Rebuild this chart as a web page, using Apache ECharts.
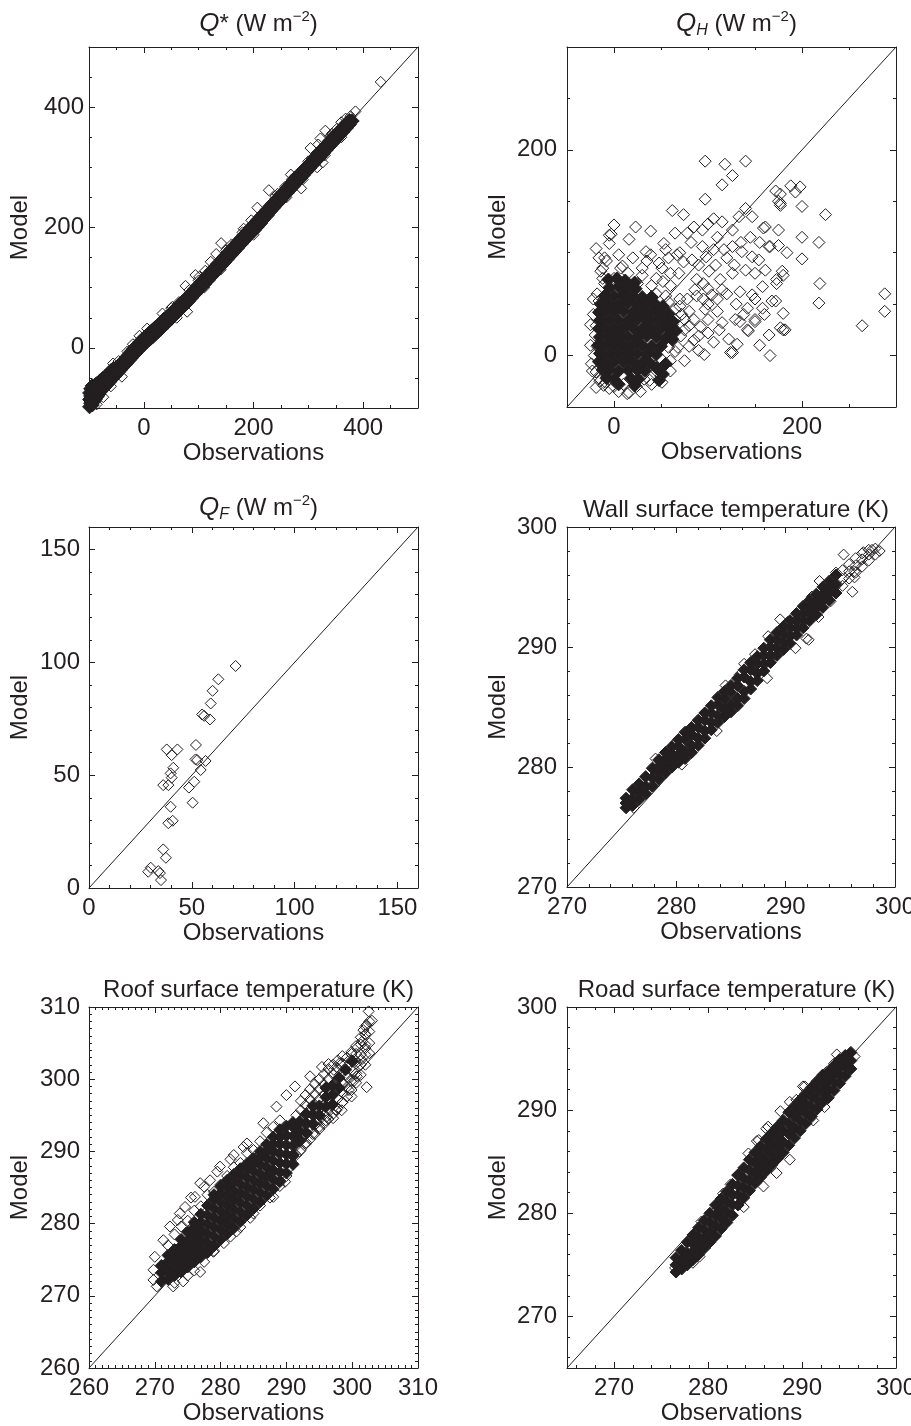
<!DOCTYPE html>
<html>
<head>
<meta charset="utf-8">
<script src="https://cdn.jsdelivr.net/npm/echarts@6.0.0/dist/echarts.min.js"></script>
<style>
  html, body { margin: 0; padding: 0; background: #fff; }
  #chart { width: 911px; height: 1426px; }
</style>
</head>
<body>
<div id="chart"></div>
<script>
// ---- data (observations, model) ----

// Q* (W m-2)
var qstarTicks = [0, 200, 400];
var qstarBand = [
  [-99,-98],[-99,-86],[-99,-75],[-97,-92],[-97,-80],[-97,-68],[-94,-95],[-94,-84],[-94,-72],[-94,-63],
  [-91,-89],[-91,-77],[-91,-65],[-88,-85],[-88,-73],[-88,-61],[-85,-81],[-85,-70],[-85,-59],
  [-82,-77],[-82,-66],[-82,-57],[-79,-73],[-79,-62],[-79,-54],[-75,-69],[-75,-58],[-75,-51],
  [-71,-65],[-71,-55],[-71,-48],[-67,-61],[-67,-51],[-67,-45],[-63,-57],[-63,-47],[-63,-41],
  [-59,-53],[-59,-44],[-59,-37],[-55,-49],[-55,-40],[-55,-34],[-51,-45],[-51,-35],
  [-47,-41],[-47,-31],[-43,-37],[-43,-27],[-39,-33],[-39,-23],[-35,-29],[-35,-19],
  [-31,-25],[-31,-15],[-27,-21],[-27,-11],[-23,-17],[-23,-6],[-19,-13],[-19,-2],
  [-15,-9],[-15,2],[-11,-5],[-11,6],[-7,-1],[-7,10],[-3,3],[-3,14],[1,6],[1,17],
  [5,10],[5,20],[9,13],[9,24],[13,16],[13,27],[17,19],[17,30],[21,23],[21,34],
  [26,27],[26,38],[31,31],[31,42],[36,36],[36,47],[41,40],[41,51],[46,45],[46,55],
  [51,49],[51,59],[56,54],[56,64],[61,59],[61,68],[66,63],[66,73],[71,68],[71,77],
  [76,72],[76,81],[81,77],[81,86],[87,83],[87,92],[93,89],[93,98],[99,95],[99,104],
  [105,101],[105,110],[111,106],[111,116],[117,112],[117,122],[123,118],[123,128],
  [129,124],[129,134],[135,130],[135,140],[141,136],[141,146],[147,142],[147,152],
  [153,148],[153,158],[159,154],[159,164],[165,160],[165,170],[171,166],[171,176],
  [177,172],[177,182],[183,178],[183,188],[189,184],[189,194],[195,190],[195,200],
  [201,195],[201,206],[207,201],[207,212],[213,207],[213,218],[219,214],[219,224],
  [225,220],[225,230],[231,227],[231,236],[237,233],[237,242],[243,239],[243,248],
  [249,245],[249,254],[255,251],[255,259],[261,257],[261,266],[267,263],[267,272],
  [273,269],[273,278],[279,275],[279,284],[285,281],[285,290],[291,287],[291,296],
  [297,293],[297,301],[303,299],[303,307],[309,305],[309,314],[315,311],[315,320],
  [321,317],[321,326],[327,323],[327,332],[333,329],[333,338],[339,335],[339,344],
  [345,341],[345,350],[351,347],[351,355],[357,353],[357,361],[363,359],[363,367],
  [369,365],[369,373],[375,371],[375,378],[380,377]
];
var qstarPoints = [
  [432,442],[386,393],[377,385],[368,381],[360,375],[352,364],[343,356],[331,361],[322,348],
  [318,338],[304,332],[326,308],[316,300],[310,305],[296,290],[287,265],[282,278],[276,285],
  [268,288],[258,268],[251,244],[244,256],[228,262],[232,240],[221,226],[207,233],[196,212],
  [190,188],[182,198],[170,164],[160,172],[141,174],[132,156],[122,143],[112,128],[101,118],
  [94,121],[83,96],[76,103],[79,60],[64,76],[52,68],[34,57],[28,40],[16,32],[6,32],[-8,20],
  [-20,6],[-30,-6],[-56,-26],[-46,-22],[-74,-82],[-60,-64],[-86,-94],[-40,-48],
  [50,66],[100,112],[150,162],[180,192],[240,252],[270,280],[300,310],[340,352],
  [60,50],[110,100],[140,130],[200,188],[260,250],[290,280],[330,320],[360,350]
];

// QH (W m-2)
var qhTicks = [0, 200];
var qhCore = [
  [-6,74],[3,75],[12,73],[22,71],
  [-5,66],[5,67],[15,66],[23,65],
  [-10,58],[0,58],[10,59],[20,58],[30,57],[40,57],
  [-14,50],[-5,50],[5,50],[15,51],[25,50],[35,50],[45,49],[52,48],
  [-16,42],[-10,42],[0,42],[10,43],[20,42],[30,42],[40,42],[50,41],[58,41],
  [-15,34],[-5,34],[5,34],[15,34],[25,35],[35,34],[45,34],[55,33],[63,33],
  [-16,26],[-10,26],[0,26],[10,26],[20,27],[30,26],[40,26],[50,26],[60,25],[66,24],
  [-15,18],[-5,18],[5,18],[15,18],[25,18],[35,19],[45,18],[55,17],[62,16],
  [-17,10],[-10,10],[0,10],[10,10],[20,10],[30,10],[40,9],[50,9],
  [-15,2],[-5,2],[5,2],[15,2],[25,2],[35,1],[45,1],
  [-16,-6],[-10,-6],[0,-6],[10,-6],[20,-6],[30,-7],[38,-7],
  [-12,-14],[-5,-14],[5,-15],[15,-14],[25,-14],[33,-15],
  [-8,-22],[0,-23],[18,-22],[26,-23],[5,-28],[22,-29],
  [45,-12],[52,-18],[48,-24],[55,-8]
];
var qhPoints = [
  [97,189],[118,186],[140,189],[126,175],[115,166],[97,152],[188,165],[198,164],[172,160],
  [177,157],[193,159],[177,148],[175,150],[200,145],[225,137],[140,143],[62,141],[74,137],
  [106,133],[115,130],[161,125],[175,122],[200,115],[218,110],[166,106],[184,100],[200,94],
  [0,127],[-3,118],[23,125],[39,121],[16,113],[-19,104],[-10,95],[-5,109],[9,87],[-14,82],
  [179,82],[173,70],[219,70],[218,51],[182,25],[177,27],[264,29],[288,60],[288,43],[166,0],
  [180,41],[172,53],[150,33],[134,33],[143,24],[131,11],[124,3],[96,1],[106,13],[51,-26],
  [14,-37],[-23,-15],[-19,-31],[-11,-29],
  [177,146],[-5,117],[34,101],[39,98],[53,109],[65,119],[78,119],[94,122],[126,122],[133,135],
  [147,135],[159,124],[175,107],[55,103],[67,98],[74,91],[83,93],[94,106],[106,103],[117,103],
  [126,106],[136,101],[147,96],[154,93],[165,106],[-12,85],[-16,95],[7,85],[30,85],[51,85],
  [69,80],[88,74],[101,82],[113,74],[126,80],[140,83],[150,80],[161,83],[180,78],[173,74],
  [134,62],[147,59],[158,67],[168,53],[180,25],[142,46],[158,46],[150,35],[129,35],[115,32],
  [142,25],[122,16],[126,3],[90,19],[110,43],[97,45],[88,58],[104,59],[115,64],[80,43],
  [80,29],[65,35],[71,19],[80,9],[65,4],[55,16],[51,-4],[32,-23],[16,-36],[-9,-26],
  [-19,-16],[-16,53],[-19,29],[-18,9],[-21,0],
  [-22,40],[-20,20],[-24,-8],[-16,-22],[0,-30],[10,-28],[24,-30],[38,-24],[45,-15],[60,-5],
  [68,8],[75,25],[72,40],[70,55],[60,68],[45,75],[30,78],[15,80],[0,75],[-10,70],[-18,60],
  [50,40],[58,52],[62,30],[70,48],[85,35],[92,28],[78,55],[86,64],[95,70],[100,35],
  [58,8],[44,-10],[90,5],[100,50],
  [45,60],[52,72],[60,80],[48,90],[35,92],[20,95],[5,98],[-8,92],[58,95],[70,100],[82,110],
  [90,88],[98,96],[108,88],[120,95],[128,88],[135,110],[145,115],[155,110],[110,115],[100,128],
  [85,125],[120,60],[130,50],[138,40],[110,55],[95,55],[100,22],[112,25],[85,15],[75,-5],
  [60,-15],[50,-20],[40,-28],[28,-35],[5,-35],[-5,-32],[-15,-25],[-25,10],[-25,30],[-22,55],
  [-12,75],[25,70],[40,68],[55,58],[65,45],[75,35],[62,15],[55,-8],[100,65],[150,55],[160,40],
  [165,20],[155,10]
];

// QF (W m-2)
var qfTicks = [0, 50, 100, 150];
var qfPoints = [
  [71.3,98.4],[62.9,92.5],[60.1,87.4],[59.2,81.8],[58.8,74.7],[55.0,76.9],[56.0,76.3],
  [52.0,63.4],[51.8,57.0],[52.6,56.7],[56.7,56.3],[54.3,52.3],[51.2,47.1],[48.6,44.5],
  [50.4,37.8],[37.8,61.4],[43.0,61.4],[40.2,58.9],[41.0,53.3],[39.7,50.8],[40.2,48.9],
  [36.1,45.6],[38.6,45.6],[39.7,36.0],[38.6,28.7],[40.7,29.8],[36.1,17.1],[37.4,13.4],
  [30.0,9.0],[28.8,7.2],[33.7,7.5],[34.5,6.6],[35.0,3.5]
];

// Wall surface temperature (K)
var wallTicks = [270, 280, 290, 300];
var wallBand = [
  [275.4,276.6],[275.4,277.0],[275.4,277.4],
  [276.0,276.8],[276.0,277.4],[276.0,278.1],
  [276.6,277.3],[276.6,277.9],[276.6,278.6],
  [277.2,277.8],[277.2,278.4],[277.2,279.2],
  [277.8,278.4],[277.8,279.1],[277.8,279.9],
  [278.4,279.0],[278.4,279.6],[278.4,280.0],[278.4,280.6],
  [279.0,279.5],[279.0,280.1],[279.0,280.6],[279.0,281.2],
  [279.6,280.0],[279.6,280.6],[279.6,281.1],[279.6,281.7],
  [280.2,280.4],[280.2,281.0],[280.2,281.7],[280.2,282.3],
  [280.8,280.7],[280.8,281.3],[280.8,282.3],[280.8,282.9],
  [281.4,281.2],[281.4,281.8],[281.4,282.7],[281.4,283.3],
  [282.0,281.8],[282.0,282.4],[282.0,283.3],[282.0,283.9],
  [282.6,282.4],[282.6,283.0],[282.6,283.9],[282.6,284.5],
  [283.2,283.1],[283.2,283.7],[283.2,284.5],[283.2,285.1],
  [283.8,283.7],[283.8,284.3],[283.8,285.2],[283.8,285.8],
  [284.4,284.2],[284.4,284.8],[284.4,285.7],[284.4,286.3],
  [285.0,284.6],[285.0,285.2],[285.0,286.2],[285.0,286.8],
  [285.6,285.1],[285.6,285.7],[285.6,286.8],[285.6,287.4],
  [286.2,285.7],[286.2,286.3],[286.2,287.5],[286.2,288.1],
  [286.8,286.5],[286.8,287.1],[286.8,288.1],[286.8,288.7],
  [287.4,287.2],[287.4,287.8],[287.4,288.6],[287.4,289.2],
  [288.0,288.0],[288.0,288.6],[288.0,289.3],[288.0,289.9],
  [288.6,288.7],[288.6,289.3],[288.6,290.0],[288.6,290.6],
  [289.2,289.3],[289.2,289.9],[289.2,290.6],[289.2,291.2],
  [289.8,289.8],[289.8,290.4],[289.8,291.1],[289.8,291.7],
  [290.4,290.3],[290.4,290.9],[290.4,291.6],[290.4,292.2],
  [291.0,291.0],[291.0,291.6],[291.0,292.2],[291.0,292.8],
  [291.6,291.6],[291.6,292.2],[291.6,292.8],[291.6,293.4],
  [292.2,292.2],[292.2,292.8],[292.2,293.3],[292.2,293.9],
  [292.8,292.7],[292.8,293.3],[292.8,293.8],[292.8,294.4],
  [293.4,293.3],[293.4,293.9],[293.4,294.4],[293.4,295.0],
  [294.0,293.9],[294.0,294.5],[294.0,295.0],[294.0,295.5],
  [294.6,294.5],[294.6,295.2],[294.6,296.0]
];
var wallPoints = [
  [295.2,295.1],[295.2,295.7],[295.2,296.4],[295.8,295.7],[295.8,296.3],[295.8,296.9],
  [296.4,296.2],[296.4,296.8],[296.4,297.4],[297.0,296.7],[297.0,297.3],[297.0,297.8],
  [297.6,297.2],[297.6,297.7],[297.6,298.1],[298.2,297.7],[298.2,298.2],
  [276.1,276.6],[277.9,278.4],[278.1,280.7],[279.9,282.0],[280.5,280.2],[281.7,283.6],
  [283.7,283.0],[284.5,286.8],[285.8,287.7],[288.3,287.4],[287.2,289.4],[288.4,290.9],
  [289.5,292.3],[290.9,289.9],[291.9,290.7],[292.1,290.6],[293.0,292.5],[294.1,293.8],
  [293.1,295.5],[296.1,294.6],[296.3,295.8],[296.3,296.3],[295.3,297.7],[297.9,298.1],
  [298.6,298.0],[297.1,297.9],[294.6,296.2],[292.4,294.2],[290.2,292.1],[286.2,288.6],
  [282.6,284.5],[279.0,280.9]
];

// Roof surface temperature (K)
var roofTicks = [260, 270, 280, 290, 300, 310];
var roofBand = [
  [271,272.0],[271,273.2],[271,274.2],
  [272,272.3],[272,273.5],[272,274.7],[272,275.6],
  [273,272.8],[273,274.0],[273,275.2],[273,276.4],
  [274,273.3],[274,274.5],[274,275.7],[274,276.9],[274,277.8],
  [275,274.0],[275,275.2],[275,276.4],[275,277.6],[275,278.8],
  [276,274.7],[276,275.9],[276,277.1],[276,278.3],[276,279.5],[276,280.2],
  [277,275.4],[277,276.6],[277,277.8],[277,279.0],[277,280.2],[277,281.3],
  [278,276.0],[278,277.3],[278,278.6],[278,279.9],[278,281.2],[278,282.5],
  [279,276.9],[279,278.2],[279,279.5],[279,280.8],[279,282.1],[279,283.4],[279,284.0],
  [280,277.8],[280,279.1],[280,280.4],[280,281.7],[280,283.0],[280,284.2],[280,285.2],
  [281,278.6],[281,279.9],[281,281.2],[281,282.5],[281,283.8],[281,285.0],[281,286.0],
  [282,279.4],[282,280.7],[282,282.0],[282,283.3],[282,284.6],[282,285.8],[282,286.8],
  [283,280.3],[283,281.6],[283,282.9],[283,284.2],[283,285.5],[283,286.7],[283,287.6],
  [284,281.2],[284,282.5],[284,283.8],[284,285.1],[284,286.4],[284,287.5],[284,288.3],
  [285,282.1],[285,283.4],[285,284.7],[285,286.0],[285,287.3],[285,288.3],[285,289.0],
  [286,283.0],[286,284.3],[286,285.6],[286,286.9],[286,288.2],[286,289.2],[286,290.0],
  [287,283.9],[287,285.2],[287,286.5],[287,287.8],[287,289.1],[287,290.1],[287,291.0],
  [288,284.8],[288,286.1],[288,287.4],[288,288.7],[288,290.0],[288,291.0],[288,292.0],
  [289,285.8],[289,287.1],[289,288.4],[289,289.7],[289,291.0],[289,292.0],[289,293.0],
  [290,287.0],[290,288.3],[290,289.6],[290,290.9],[290,292.2],[290,293.5],
  [291,288.2],[291,289.5],[291,290.8],[291,292.1],[291,293.4],[291,294.0],
  [292,291.5],[292,292.8],[292,294.1],[293,292.6],[293,293.9],[293,295.2],
  [294,293.8],[294,295.1],[294,296.3],[295,295.0],[295,296.3],[296,296.2],[296,297.5],[297,297.8],
  [296,298.8],[297,299.1],[298,300.2],[299,301.3],[298,298.8],[300,302.5],[297,296.5]
];
var roofPoints = [
  [302.5,309.4],[303,308.1],[302.2,307.5],[301.7,306.8],[302,306.2],[301.5,305.2],[302,304.3],
  [300.8,304.4],[299.9,303.5],[300.5,302.5],[302.2,298.9],[299.9,297.6],[300.3,299.8],[299,300.7],
  [298.4,295.7],[297.1,294.6],[296.1,294.8],[298.1,302.2],[297.2,301.3],[296.4,302.1],[295.4,301.7],
  [293.6,300.4],[291.3,299],[290,297.8],[288.5,296.2],[286.5,293.9],[284,291.1],[282,289.5],
  [279.9,287.9],[278.4,286],[276.9,285.6],[276.1,283.7],[274.6,282.3],[273.8,281.4],[272.3,279.6],
  [271.3,277.7],[270,275.4],[269.8,273.6],[269.8,272.2],[270.3,271.3],[272.8,271.3],[274.3,272],
  [276.9,273.3],[278.9,276.1],[282.4,278.9],[285,281.4],[288,283.7],[289.8,285.8],[291,289.3],
  [293.1,292.5],[294.6,293.9],[297.6,295.7],[299.2,297.6],[300.7,300.4],[301.4,302.7],
  [291.5,289.5],[291.5,290.8],[291.5,292.2],[291.5,293.6],[291.5,295.0],
  [292.2,290.2],[292.2,291.5],[292.2,292.9],[292.2,294.3],[292.2,295.7],[292.2,297.0],
  [292.9,291.0],[292.9,292.3],[292.9,293.6],[292.9,295.0],[292.9,296.4],[292.9,297.8],
  [293.6,291.7],[293.6,293.0],[293.6,294.4],[293.6,295.8],[293.6,297.2],[293.6,298.6],
  [294.3,292.4],[294.3,293.7],[294.3,295.1],[294.3,296.5],[294.3,297.9],[294.3,299.3],
  [295.0,293.1],[295.0,294.4],[295.0,295.8],[295.0,297.2],[295.0,298.6],[295.0,300.0],
  [295.7,293.8],[295.7,295.1],[295.7,296.5],[295.7,297.9],[295.7,299.3],[295.7,300.7],
  [296.4,294.5],[296.4,295.8],[296.4,297.2],[296.4,298.6],[296.4,300.0],[296.4,301.4],
  [297.1,295.2],[297.1,296.5],[297.1,297.9],[297.1,299.3],[297.1,300.7],[297.1,302.0],
  [297.8,296.0],[297.8,297.3],[297.8,298.7],[297.8,300.1],[297.8,301.5],[297.8,302.6],
  [298.5,296.8],[298.5,298.1],[298.5,299.5],[298.5,300.9],[298.5,302.2],[298.5,303.2],
  [299.2,297.6],[299.2,298.9],[299.2,300.3],[299.2,301.7],[299.2,303.0],
  [299.9,298.5],[299.9,299.8],[299.9,301.2],[299.9,302.6],[299.9,303.8],
  [300.6,299.5],[300.6,300.8],[300.6,302.2],[300.6,303.5],[300.6,304.6],
  [301.3,300.6],[301.3,302.0],[301.3,303.4],[301.3,304.8],[301.3,305.8],
  [302.0,302.0],[302.0,303.4],[302.0,304.8],[302.0,306.2],[302.0,307.3],
  [302.6,303.6],[302.6,305.0],[302.6,306.6],[302.6,308.0],
  [272,277],[273,278.5],[274,279.6],[275,280.4],[276,281.8],[277,282.4],[278,284],[279,284.4],
  [280,285.4],[281,286.6],[282,287.8],[283,288.4],[284,289.8],[285,290.2],[286,291.4],[287,292.6],
  [288,293.4],[289,294.3],[283.5,290.6],[281.5,288.9],[279.5,287.2],[277.5,285.1],[275.5,283.6],
  [273.5,280.5],
  [273,271.8],[275,272.8],[276,273.5],[277.5,274.7],[279,276.2],[280.5,277.3],[281.5,278.2],
  [283,279.5],[284.5,280.8],[286,282.5],[287.5,283.6],[289,285.2],[290,286.6],[291,288.3],
  [292,290],[293,291.2],[294,292.4],[295,293.4],[296,294.3],[297.5,295.8],[298.5,296.8],
  [299.5,298.5],[288.5,286.2],[290.3,287.6]
];

// Road surface temperature (K)
var roadTicks = [270, 280, 290, 300];
var roadBand = [
  [276.6,274.3],[276.6,275.0],[276.6,275.7],
  [277.2,274.6],[277.2,275.5],[277.2,276.4],
  [277.8,275.0],[277.8,276.1],[277.8,277.2],
  [278.4,275.5],[278.4,276.3],[278.4,277.1],[278.4,277.9],
  [279.0,276.0],[279.0,276.9],[279.0,277.7],[279.0,278.6],
  [279.6,276.6],[279.6,277.5],[279.6,278.4],[279.6,279.3],
  [280.2,277.2],[280.2,278.1],[280.2,279.1],[280.2,280.0],
  [280.8,277.8],[280.8,278.8],[280.8,279.8],[280.8,280.8],
  [281.4,278.5],[281.4,279.5],[281.4,280.4],[281.4,281.4],
  [282.0,279.1],[282.0,280.1],[282.0,281.1],[282.0,282.1],
  [282.6,279.8],[282.6,280.8],[282.6,281.8],[282.6,282.8],
  [283.2,280.8],[283.2,281.8],[283.2,282.7],[283.2,283.7],
  [283.8,281.5],[283.8,282.5],[283.8,283.4],[283.8,284.4],
  [284.4,282.2],[284.4,283.2],[284.4,284.2],[284.4,285.2],
  [285.0,282.9],[285.0,283.9],[285.0,284.9],[285.0,285.9],
  [285.6,283.5],[285.6,284.5],[285.6,285.5],[285.6,286.5],
  [286.2,284.1],[286.2,285.1],[286.2,286.2],[286.2,287.2],
  [286.8,284.7],[286.8,285.7],[286.8,286.8],[286.8,287.8],
  [287.4,285.3],[287.4,286.3],[287.4,287.4],[287.4,288.4],
  [288.0,285.9],[288.0,286.9],[288.0,288.0],[288.0,289.0],
  [288.6,286.6],[288.6,287.7],[288.6,288.7],[288.6,289.8],
  [289.2,287.3],[289.2,288.3],[289.2,289.4],[289.2,290.4],
  [289.8,288.0],[289.8,289.0],[289.8,290.0],[289.8,291.0],
  [290.4,288.7],[290.4,289.7],[290.4,290.6],[290.4,291.6],
  [291.0,289.4],[291.0,290.3],[291.0,291.3],[291.0,292.2],
  [291.6,290.1],[291.6,291.0],[291.6,291.9],[291.6,292.8],
  [292.2,290.8],[292.2,291.7],[292.2,292.5],[292.2,293.4],
  [292.8,291.2],[292.8,292.0],[292.8,292.9],[292.8,293.7],
  [293.4,291.9],[293.4,292.7],[293.4,293.5],[293.4,294.3],
  [294.0,292.6],[294.0,293.4],[294.0,294.1],[294.0,294.9],
  [294.6,293.3],[294.6,294.3],[294.6,295.3],
  [295.2,294.0],[295.2,294.8],[295.2,295.6]
];
var roadPoints = [
  [295.1,295.5],[293.7,295.4],[294.8,293.9],[290.3,292.3],[288.7,290.8],[287.7,289.9],[286.4,288.4],
  [285.4,287.1],[284.5,285.3],[283.1,283.7],[292.4,290.3],[291.2,289.0],[288.7,285.2],[287.3,283.9],
  [285.9,282.6],[283.8,280.6],[280.9,278.0],[279.1,275.8],[278.4,275.2],[279.3,279.2],[280.7,277.7],
  [276.5,274.7],[277.9,276.4],[295.6,295.2],[294.3,294.6],[293.4,294.5],[292.6,293.7],[291.8,292.8],
  [289.4,291.0],[282.4,282.8],[281.6,281.9],[289.6,288.2],[290.8,289.1],
  [286.2,288.2],[285.2,287.0],[284.3,285.8],[290.1,292.3],[292.1,290.7],[294.9,293.9]
];

// ---- layout ----
var INK = '#231f20';
var FONT = '"Liberation Sans", Arial, Helvetica, sans-serif';

var panels = [
  {title: '{i|Q}{n|* (W m}{sup|\u22122}{n|)}', left: 89, top: 47, width: 329, height: 361,
   range: [-100, 500], labels: qstarTicks, step: 50, band: qstarBand, points: qstarPoints,
   yMargin: 5, bandSize: 14, titleTop: 4},
  {title: '{i|Q}{sub|H}{n| (W m}{sup|\u22122}{n|)}', left: 567, top: 47, width: 329, height: 360,
   range: [-50, 300], labels: qhTicks, step: 50, band: qhCore, points: qhPoints,
   yMargin: 10, bandSize: 13, pointSize: 12, titleTop: 4},
  {title: '{i|Q}{sub|F}{n| (W m}{sup|\u22122}{n|)}', left: 89, top: 527, width: 329, height: 361,
   range: [0, 160], labels: qfTicks, step: 10, band: [], points: qfPoints, yMargin: 9, titleTop: 488},
  {title: '{n|Wall surface temperature (K)}', left: 567, top: 527, width: 328, height: 360,
   range: [270, 300], labels: wallTicks, step: 2, band: wallBand, points: wallPoints, yMargin: 10, titleTop: 490},
  {title: '{n|Roof surface temperature (K)}', left: 89, top: 1007, width: 329, height: 361,
   range: [260, 310], labels: roofTicks, step: 1, band: roofBand, points: roofPoints, yMargin: 9, titleTop: 970},
  {title: '{n|Road surface temperature (K)}', left: 567, top: 1007, width: 329, height: 361,
   range: [265, 300], labels: roadTicks, step: 2, band: roadBand, points: roadPoints, yMargin: 10, titleTop: 970}
];

var richText = {
  n: {fontSize: 24, fontFamily: FONT, color: INK, lineHeight: 30},
  i: {fontSize: 26, fontFamily: FONT, color: INK, fontStyle: 'italic', lineHeight: 30},
  sub: {fontSize: 16, fontFamily: FONT, color: INK, fontStyle: 'italic', lineHeight: 19, verticalAlign: 'bottom'},
  sup: {fontSize: 15, fontFamily: FONT, color: INK, lineHeight: 18, verticalAlign: 'top'}
};

function ticksEvery(min, max, step) {
  var out = [];
  var v = Math.ceil(min / step - 1e-9) * step;
  for (; v <= max + 1e-9; v += step) out.push(Math.round(v * 1000) / 1000);
  return out;
}

function axisDef(pos, gi, range, ticks, len, showLine, labels, margin) {
  return {
    type: 'value', gridIndex: gi, position: pos, min: range[0], max: range[1],
    axisLine: {show: showLine, onZero: false, lineStyle: {color: INK, width: 1}},
    axisTick: {show: true, inside: true, length: len, customValues: ticks, lineStyle: {color: INK, width: 1}},
    axisLabel: {show: !!labels, customValues: labels || undefined, color: INK, fontSize: 24,
                fontFamily: FONT, margin: margin || 8},
    splitLine: {show: false},
    axisPointer: {show: false}
  };
}

var grids = [], xAxes = [], yAxes = [], series = [], titles = [];

panels.forEach(function (p, gi) {
  grids.push({left: p.left, top: p.top, width: p.width, height: p.height,
              containLabel: false, outerBoundsMode: 'none'});
  var minor = ticksEvery(p.range[0], p.range[1], p.step);
  var xi = xAxes.length, yi = yAxes.length;

  var xMain = axisDef('bottom', gi, p.range, p.labels, 6, true, p.labels, 8);
  xMain.name = 'Observations';
  xMain.nameLocation = 'middle';
  xMain.nameGap = 32;
  xMain.nameTextStyle = {fontSize: 24, fontFamily: FONT, color: INK};
  xAxes.push(xMain);
  xAxes.push(axisDef('bottom', gi, p.range, minor, 3, false));
  xAxes.push(axisDef('top', gi, p.range, p.labels, 6, true));
  xAxes.push(axisDef('top', gi, p.range, minor, 3, false));

  var yMain = axisDef('left', gi, p.range, p.labels, 6, true, p.labels, p.yMargin);
  yMain.name = 'Model';
  yMain.nameLocation = 'middle';
  yMain.nameGap = 57;
  yMain.nameTextStyle = {fontSize: 24, fontFamily: FONT, color: INK};
  yAxes.push(yMain);
  yAxes.push(axisDef('left', gi, p.range, minor, 3, false));
  yAxes.push(axisDef('right', gi, p.range, p.labels, 6, true));
  yAxes.push(axisDef('right', gi, p.range, minor, 3, false));

  // 1:1 line
  series.push({
    type: 'line', xAxisIndex: xi, yAxisIndex: yi, silent: true, z: 1,
    data: [[p.range[0], p.range[0]], [p.range[1], p.range[1]]],
    symbol: 'none', lineStyle: {color: INK, width: 1}
  });
  // saturated core where the diamonds overlap into solid black
  if (p.band.length) {
    series.push({
      type: 'scatter', xAxisIndex: xi, yAxisIndex: yi, silent: true, z: 2,
      data: p.band, symbol: 'diamond', symbolSize: p.bandSize || 12,
      itemStyle: {color: INK, borderColor: INK, borderWidth: 1, opacity: 1}
    });
  }
  series.push({
    type: 'scatter', xAxisIndex: xi, yAxisIndex: yi, silent: true, z: 3,
    data: p.points, symbol: 'diamond', symbolSize: p.pointSize || 11,
    itemStyle: {color: 'rgba(0,0,0,0)', borderColor: INK, borderWidth: 1, opacity: 1}
  });

  titles.push({
    text: p.title, left: p.left + p.width / 2, top: p.titleTop, textAlign: 'center',
    textStyle: {rich: richText, fontSize: 24, fontFamily: FONT, color: INK, fontWeight: 'normal'}
  });
});

var chart = echarts.init(document.getElementById('chart'), null, {renderer: 'canvas'});
chart.setOption({
  backgroundColor: '#ffffff',
  animation: false,
  title: titles,
  grid: grids,
  xAxis: xAxes,
  yAxis: yAxes,
  series: series
});
</script>
</body>
</html>
